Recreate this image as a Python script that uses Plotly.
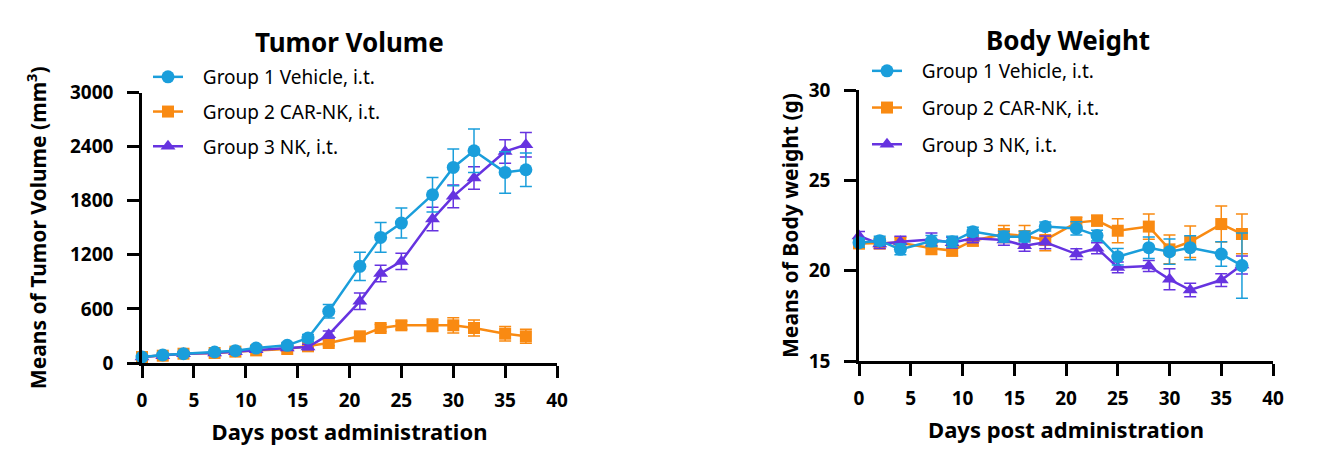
import plotly.graph_objects as go

days = [0, 2, 4, 7, 9, 11, 14, 16, 18, 21, 23, 25, 28, 30, 32, 35, 37]

# Tumor volume (mm^3)
tv_g1 = [66, 89, 103, 122, 137, 166, 196, 277, 573, 1072, 1393, 1552, 1866, 2169, 2354, 2114, 2143]
tv_g1_err = [15, 15, 18, 20, 20, 25, 30, 40, 75, 157, 166, 166, 190, 203, 240, 230, 185]
tv_g2 = [66, 81, 103, 111, 126, 140, 155, 185, 222, 296, 388, 418, 418, 418, 388, 325, 296]
tv_g2_err = [12, 12, 15, 15, 18, 20, 22, 25, 30, 35, 40, 45, 70, 85, 89, 80, 78]
tv_g3 = [66, 81, 103, 111, 126, 148, 166, 177, 314, 684, 993, 1127, 1596, 1848, 2051, 2346, 2420]
tv_g3_err = [12, 12, 15, 15, 18, 20, 25, 30, 40, 92, 92, 90, 130, 125, 125, 130, 135]

# Body weight (g)
bw_g1 = [21.55, 21.66, 21.18, 21.64, 21.6, 22.16, 21.88, 21.88, 22.44, 22.34, 21.94, 20.77, 21.27, 21.05, 21.27, 20.92, 20.28]
bw_g1_err = [0.25, 0.25, 0.3, 0.3, 0.3, 0.25, 0.3, 0.3, 0.25, 0.37, 0.3, 0.46, 0.6, 0.7, 0.66, 0.68, 1.8]
bw_g2 = [21.51, 21.51, 21.55, 21.24, 21.11, 21.66, 22.03, 21.92, 21.7, 22.66, 22.77, 22.21, 22.44, 21.18, 21.6, 22.58, 22.03]
bw_g2_err = [0.3, 0.3, 0.3, 0.35, 0.3, 0.3, 0.47, 0.58, 0.6, 0.3, 0.3, 0.66, 0.7, 0.8, 0.87, 1.0, 1.1]
bw_g3 = [21.92, 21.48, 21.6, 21.73, 21.55, 21.79, 21.7, 21.38, 21.57, 20.92, 21.24, 20.18, 20.26, 19.52, 18.93, 19.48, 20.31]
bw_g3_err = [0.25, 0.25, 0.3, 0.35, 0.3, 0.25, 0.3, 0.3, 0.35, 0.3, 0.3, 0.3, 0.3, 0.58, 0.38, 0.35, 0.5]

names = ["Group 1 Vehicle, i.t.", "Group 2 CAR-NK, i.t.", "Group 3 NK, i.t."]
colors = ["#1a9edb", "#f98a12", "#6633e0"]
symbols = ["circle", "square", "triangle-up"]
msizes = [13, 12, 13]

FONT = "Noto Sans"
NB = "\u00a0\u00a0\u00a0"

fig = go.Figure()

def add_series(y, err, i, xaxis, yaxis, legend):
    fig.add_trace(go.Scatter(
        x=days, y=y, name=NB + names[i], mode="lines+markers",
        line=dict(color=colors[i], width=2.5),
        marker=dict(color=colors[i], symbol=symbols[i], size=msizes[i]),
        error_y=dict(type="data", array=err, visible=True, color=colors[i],
                     thickness=1.5, width=6),
        xaxis=xaxis, yaxis=yaxis, legend=legend, legendrank=i + 1,
        legendgroup=legend + str(i), cliponaxis=False,
    ))

order = [1, 2, 0]
tv = [(tv_g1, tv_g1_err), (tv_g2, tv_g2_err), (tv_g3, tv_g3_err)]
bw = [(bw_g1, bw_g1_err), (bw_g2, bw_g2_err), (bw_g3, bw_g3_err)]
for i in order:
    add_series(tv[i][0], tv[i][1], i, "x", "y", "legend")
for i in order:
    add_series(bw[i][0], bw[i][1], i, "x2", "y2", "legend2")

axis_common = dict(
    showline=True, linecolor="black", linewidth=2.5, ticks="outside",
    ticklen=12, tickwidth=2.5, tickcolor="black", showgrid=False, zeroline=False,
    automargin=False,
    tickfont=dict(family=FONT, size=19, color="black", weight="bold"),
)
xt = dict(text="Days post administration", standoff=14,
          font=dict(family=FONT, size=22, weight="bold"))

W, H = 1340, 466
def fx(px):
    return px / W
def fy(py):
    return (H - py) / H

fig.update_layout(
    width=W, height=H, margin=dict(l=0, r=0, t=0, b=0, pad=0),
    paper_bgcolor="white", plot_bgcolor="white",
    font=dict(family=FONT, color="black"),
    xaxis=dict(domain=[fx(142), fx(557)], range=[0, 40], tickvals=[0, 5, 10, 15, 20, 25, 30, 35, 40],
               anchor="y", ticklabelstandoff=6, title=xt, **axis_common),
    yaxis=dict(domain=[fy(363), fy(92.5)], range=[0, 3000], tickvals=[0, 600, 1200, 1800, 2400, 3000],
               anchor="x", ticklabelstandoff=10,
               title=dict(text="Means of Tumor Volume (mm<sup>3</sup>)", standoff=18,
                          font=dict(family=FONT, size=21, weight="bold")), **axis_common),
    xaxis2=dict(domain=[fx(859), fx(1273)], range=[0, 40], tickvals=[0, 5, 10, 15, 20, 25, 30, 35, 40],
                anchor="y2", ticklabelstandoff=6, title=xt, **axis_common),
    yaxis2=dict(domain=[fy(361), fy(90)], range=[15, 30], tickvals=[15, 20, 25, 30],
                anchor="x2", ticklabelstandoff=10,
                title=dict(text="Means of Body weight (g)", standoff=5,
                           font=dict(family=FONT, size=21, weight="bold")), **axis_common),
    legend=dict(x=fx(148), y=fy(58), xanchor="left", yanchor="top", traceorder="grouped",
                tracegroupgap=7, bgcolor="rgba(0,0,0,0)",
                font=dict(family=FONT, size=19, color="black")),
    legend2=dict(x=fx(867), y=fy(52), xanchor="left", yanchor="top", traceorder="grouped",
                 tracegroupgap=9, bgcolor="rgba(0,0,0,0)",
                 font=dict(family=FONT, size=19, color="black")),
    annotations=[
        dict(text="<b>Tumor Volume</b>", x=fx(350), y=fy(42), xref="paper", yref="paper",
             xanchor="center", yanchor="middle",
             showarrow=False, font=dict(family=FONT, size=26, color="black")),
        dict(text="<b>Body Weight</b>", x=fx(1068), y=fy(40), xref="paper", yref="paper",
             xanchor="center", yanchor="middle",
             showarrow=False, font=dict(family=FONT, size=26, color="black")),
    ],
)

fig.write_html("out.html")
